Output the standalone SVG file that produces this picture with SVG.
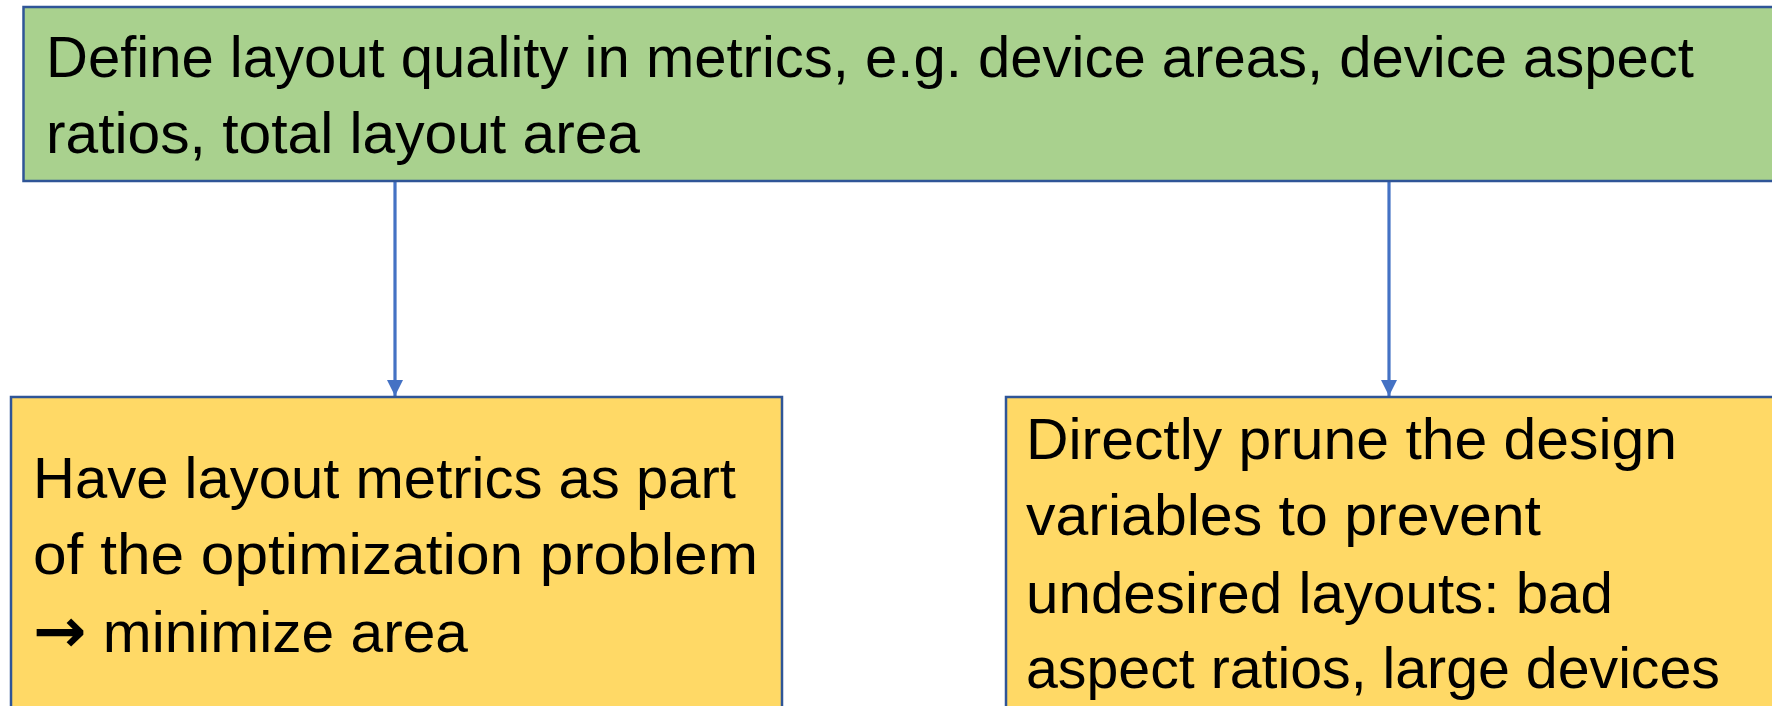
<svg xmlns="http://www.w3.org/2000/svg" width="1772" height="706" viewBox="0 0 1772 706">
<style>
.box{stroke:#2F5597;stroke-width:2.5}
.green{fill:#A9D18E}
.yellow{fill:#FFD966}
text{font-family:"Liberation Sans",Arial,sans-serif;fill:#000}
.t{font-size:57px}
.arrowglyph{font-family:"DejaVu Sans",sans-serif;font-size:62px;font-weight:bold}
.conn{stroke:#4472C4;stroke-width:3.2;fill:none}
</style>
<defs>
<marker id="arr" viewBox="0 0 10 10" refX="10" refY="5" markerWidth="5" markerHeight="5" orient="auto" markerUnits="strokeWidth">
<path d="M0,0 L10,5 L0,10 z" fill="#4472C4"/>
</marker>
</defs>
<g id="connectors">
<line class="conn" x1="395" y1="182" x2="395" y2="396" marker-end="url(#arr)"/>
<line class="conn" x1="1389" y1="182" x2="1389" y2="396" marker-end="url(#arr)"/>
</g>
<g id="top">
<rect class="box green" x="23.5" y="7" width="1770" height="174"/>
<text class="t" x="46" y="77" textLength="1648" lengthAdjust="spacingAndGlyphs">Define layout quality in metrics, e.g. device areas, device aspect</text>
<text class="t" x="46" y="153" textLength="594" lengthAdjust="spacingAndGlyphs">ratios, total layout area</text>
</g>
<g id="left">
<rect class="box yellow" x="11" y="397" width="771" height="330"/>
<text class="t" x="33" y="498" textLength="703" lengthAdjust="spacingAndGlyphs">Have layout metrics as part</text>
<text class="t" x="33" y="574" textLength="725" lengthAdjust="spacingAndGlyphs">of the optimization problem</text>
<text class="t" x="33" y="652" textLength="435" lengthAdjust="spacingAndGlyphs"><tspan class="arrowglyph">→</tspan> minimize area</text>
</g>
<g id="right">
<rect class="box yellow" x="1006" y="397" width="790" height="330"/>
<text class="t" x="1026" y="459" textLength="651" lengthAdjust="spacingAndGlyphs">Directly prune the design</text>
<text class="t" x="1026" y="535" textLength="515" lengthAdjust="spacingAndGlyphs">variables to prevent</text>
<text class="t" x="1026" y="613" textLength="587" lengthAdjust="spacingAndGlyphs">undesired layouts: bad</text>
<text class="t" x="1026" y="688" textLength="694" lengthAdjust="spacingAndGlyphs">aspect ratios, large devices</text>
</g>
</svg>
